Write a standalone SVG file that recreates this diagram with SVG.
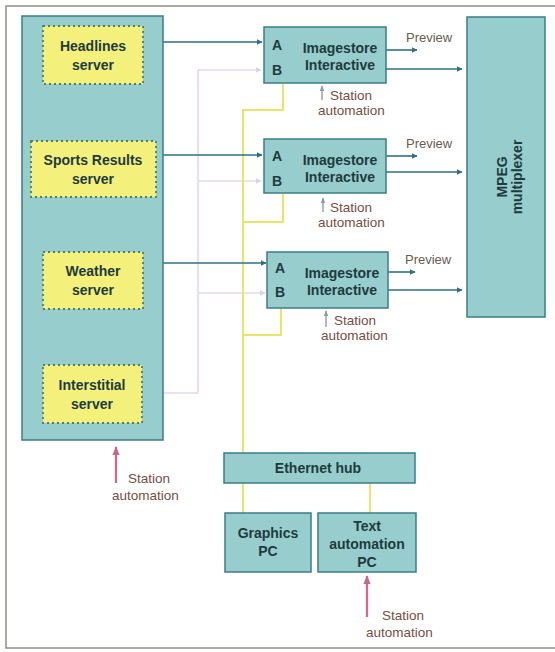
<svg xmlns="http://www.w3.org/2000/svg" width="555" height="652" viewBox="0 0 555 652">
<style>
.panel{fill:#98cdcd;stroke:#3a7d86;stroke-width:1.5}
.srv{fill:#f4f07c;stroke:#4e7d6a;stroke-width:1.8;stroke-dasharray:2 3}
.box{fill:#98cdcd;stroke:#3a7d86;stroke-width:1.5}
.t{font-family:"Liberation Sans",Arial,sans-serif;font-weight:bold;font-size:14px;fill:#1d3b3d;text-anchor:middle}
.ab{font-family:"Liberation Sans",Arial,sans-serif;font-weight:bold;font-size:14px;fill:#1d3b3d}
.sa{font-family:"Liberation Sans",Arial,sans-serif;font-size:13.5px;fill:#7a4d45}
.pv{font-family:"Liberation Sans",Arial,sans-serif;font-size:13px;fill:#6b5a50}
.arr{stroke:#2f7184;stroke-width:1.6;fill:none;marker-end:url(#ah)}
.faint{stroke:#e6d8e8;stroke-width:1.6;fill:none}
.eth{stroke:#ece466;stroke-width:2;fill:none}
.pink{stroke:#e2628e;stroke-width:2.2;fill:none;marker-end:url(#ph)}
.grey{stroke:#9aa0b0;stroke-width:1.5;fill:none;marker-end:url(#gh)}
</style>
<defs>
<marker id="ah" viewBox="0 0 10 10" refX="9" refY="5" markerWidth="6" markerHeight="6" orient="auto" markerUnits="userSpaceOnUse"><path d="M0,0 L10,5 L0,10 z" fill="#2f7184"/></marker>
<marker id="fh" viewBox="0 0 10 10" refX="9" refY="5" markerWidth="6" markerHeight="6" orient="auto" markerUnits="userSpaceOnUse"><path d="M0,0 L10,5 L0,10 z" fill="#ddd0ea"/></marker>
<marker id="ph" viewBox="0 0 10 10" refX="9" refY="5" markerWidth="9" markerHeight="9" orient="auto" markerUnits="userSpaceOnUse"><path d="M0,1 L10,5 L0,9 z" fill="#c86890"/></marker>
<marker id="gh" viewBox="0 0 10 10" refX="9" refY="5" markerWidth="6" markerHeight="6" orient="auto" markerUnits="userSpaceOnUse"><path d="M0,1 L10,5 L0,9 z" fill="#8a98b0"/></marker>
</defs>
<rect x="0" y="0" width="555" height="652" fill="#ffffff"/>
<rect x="6" y="6" width="560" height="642" fill="none" stroke="#8f8f84" stroke-width="1.5"/>

<g id="connectors">
<line class="faint" x1="198" y1="70" x2="198" y2="393"/>
<line class="faint" x1="142" y1="393" x2="198" y2="393"/>
<line class="faint" x1="198" y1="70" x2="261" y2="70" marker-end="url(#fh)"/>
<line class="faint" x1="198" y1="181" x2="261" y2="181" marker-end="url(#fh)"/>
<line class="faint" x1="198" y1="293" x2="265" y2="293" marker-end="url(#fh)"/>
<polyline class="eth" points="283,84 283,110 243,110 243,453"/>
<polyline class="eth" points="283,194 283,222 243,222"/>
<polyline class="eth" points="281,308 281,335 243,335"/>
<line class="eth" x1="243" y1="483" x2="243" y2="513"/>
<line class="eth" x1="370" y1="483" x2="370" y2="513"/>
<line class="arr" x1="157" y1="42" x2="262" y2="42"/>
<line class="arr" x1="155" y1="155" x2="262" y2="155"/>
<line class="arr" x1="155" y1="263" x2="266" y2="263"/>
<line class="arr" x1="386" y1="50" x2="417" y2="50"/>
<line class="arr" x1="386" y1="69" x2="462" y2="69"/>
<line class="arr" x1="386" y1="156" x2="417" y2="156"/>
<line class="arr" x1="386" y1="172" x2="462" y2="172"/>
<line class="arr" x1="388" y1="272" x2="415" y2="272"/>
<line class="arr" x1="388" y1="290" x2="462" y2="290"/>
<line class="grey" x1="322" y1="100" x2="322" y2="86"/>
<line class="grey" x1="323" y1="212" x2="323" y2="198"/>
<line class="grey" x1="326" y1="327" x2="326" y2="311"/>
<line class="pink" x1="116" y1="483" x2="116" y2="447"/>
<line class="pink" x1="367" y1="617" x2="367" y2="576"/>
</g>

<g id="servers-panel"><rect class="panel" x="22" y="16" width="141" height="424"/></g>
<g id="headlines"><rect class="srv" x="43" y="26" width="100" height="58"/><text class="t" x="93" y="51">Headlines</text><text class="t" x="93" y="70">server</text></g>
<g id="sports"><rect class="srv" x="31" y="141" width="125" height="56"/><text class="t" x="93" y="165">Sports Results</text><text class="t" x="93" y="184">server</text></g>
<g id="weather"><rect class="srv" x="43" y="252" width="100" height="57"/><text class="t" x="93" y="276">Weather</text><text class="t" x="93" y="295">server</text></g>
<g id="interstitial"><rect class="srv" x="43" y="365" width="99" height="58"/><text class="t" x="92" y="390">Interstitial</text><text class="t" x="92" y="409">server</text></g>

<g id="imagestore1"><rect class="box" x="264" y="27" width="122" height="56"/><text class="ab" x="272" y="50">A</text><text class="ab" x="272" y="75">B</text><text class="t" x="340" y="53">Imagestore</text><text class="t" x="340" y="70">Interactive</text></g>
<g id="imagestore2"><rect class="box" x="264" y="139" width="122" height="54"/><text class="ab" x="272" y="161">A</text><text class="ab" x="272" y="186">B</text><text class="t" x="340" y="165">Imagestore</text><text class="t" x="340" y="182">Interactive</text></g>
<g id="imagestore3"><rect class="box" x="267" y="252" width="121" height="56"/><text class="ab" x="275" y="273">A</text><text class="ab" x="275" y="297">B</text><text class="t" x="342" y="278">Imagestore</text><text class="t" x="342" y="295">Interactive</text></g>

<g id="mpeg"><rect class="box" x="467" y="17" width="78" height="300"/><text class="t" transform="translate(507,177) rotate(-90)"><tspan x="0" y="0">MPEG</tspan><tspan x="0" y="15">multiplexer</tspan></text></g>

<g id="labels">
<text class="pv" x="406" y="42">Preview</text>
<text class="pv" x="406" y="148">Preview</text>
<text class="pv" x="405" y="264">Preview</text>
<text class="sa" x="330" y="100">Station</text><text class="sa" x="318" y="115">automation</text>
<text class="sa" x="330" y="212">Station</text><text class="sa" x="318" y="227">automation</text>
<text class="sa" x="334" y="325">Station</text><text class="sa" x="321" y="340">automation</text>
<text class="sa" x="128" y="483">Station</text><text class="sa" x="112" y="500">automation</text>
<text class="sa" x="382" y="620">Station</text><text class="sa" x="366" y="637">automation</text>
</g>

<g id="ethernet-hub"><rect class="box" x="224" y="453" width="191" height="30"/><text class="t" x="318" y="473">Ethernet hub</text></g>
<g id="graphics-pc"><rect class="box" x="225" y="513" width="86" height="59"/><text class="t" x="268" y="538">Graphics</text><text class="t" x="268" y="556">PC</text></g>
<g id="text-pc"><rect class="box" x="318" y="513" width="98" height="59"/><text class="t" x="367" y="531">Text</text><text class="t" x="367" y="549">automation</text><text class="t" x="367" y="567">PC</text></g>
</svg>
